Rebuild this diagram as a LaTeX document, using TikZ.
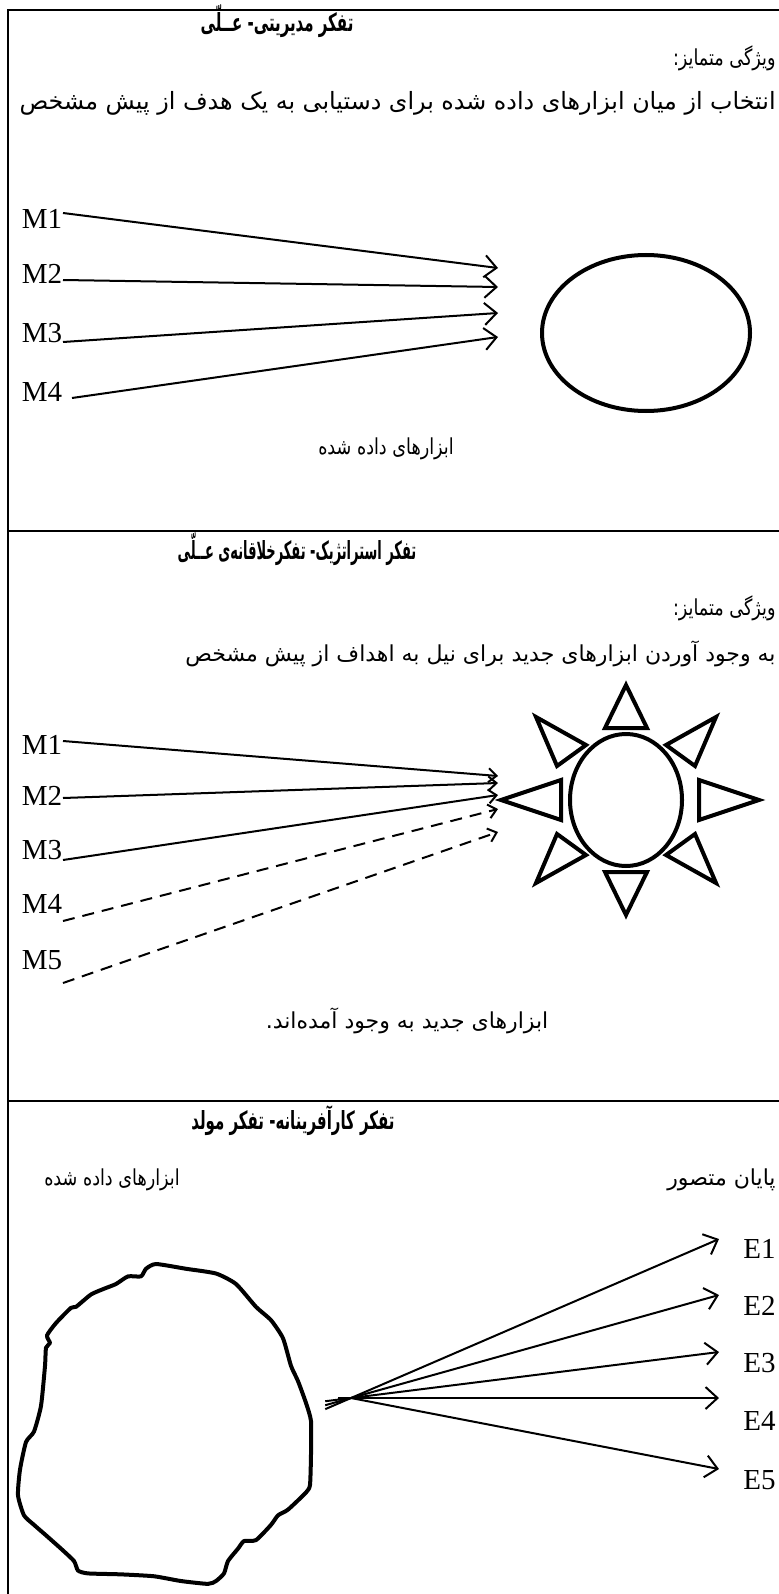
\documentclass[tikz,border=0pt]{standalone}
\usepackage{fontspec}
\usetikzlibrary{arrows.meta,calc,shapes.geometric}
\TeXXeTstate=1
\newfontfamily\fa[Script=Arabic]{DejaVu Sans}
\newfontfamily\facond[Script=Arabic,FakeStretch=0.8]{DejaVu Sans}
\newfontfamily\fatitle[Script=Arabic,FakeStretch=0.6]{DejaVu Sans}
\newfontfamily\fatitlenarrow[Script=Arabic,FakeStretch=0.52]{DejaVu Sans}
\newfontfamily\tnr{Liberation Serif}
\tikzset{
  frame/.style={line width=1pt},
  body/.style={inner sep=0pt, font=\fa\fontsize{11}{13}\selectfont},
  wbody/.style={inner sep=0pt, font=\fa\fontsize{11.9}{14}\selectfont},
  cbody/.style={inner sep=0pt, font=\facond\fontsize{11}{13}\selectfont},
  ttl/.style={inner sep=0pt, font=\fatitle\bfseries\fontsize{12.5}{14}\selectfont},
  nttl/.style={inner sep=0pt, font=\fatitlenarrow\bfseries\fontsize{12.5}{14}\selectfont},
  mlab/.style={inner sep=0pt, font=\tnr\fontsize{14.5}{17}\selectfont},
  arr/.style={line width=1pt, -{Straight Barb[length=6pt,width=11pt]}},
  sarr/.style={line width=1pt, -{Straight Barb[length=4pt,width=7pt]}},
  darr/.style={sarr, dash pattern=on 6pt off 4pt},
  bold shape/.style={line width=2pt},
}
\begin{document}
\begin{tikzpicture}[x=0.5pt,y=-0.5pt]
\useasboundingbox (0,0) rectangle (779,1594);
\clip (0,0) rectangle (779,1594);
% frame
\draw[frame] (8,1600) -- (8,10) -- (790,10);
\draw[frame] (8,531) -- (790,531);
\draw[frame] (8,1101) -- (790,1101);

% ---------- section 1 ----------
\node[ttl] (t1) at (277,21) {\beginR تفکر مدیریتی- عــلّی\endR};
\node[cbody, anchor=east] (f1) at (776,58) {\beginR ویژگی متمایز:\endR};
\node[wbody, anchor=east] (d1) at (776,103) {\beginR انتخاب از میان ابزارهای داده شده برای دستیابی به یک هدف از پیش مشخص\endR};
\node[mlab] (a1) at (42,219) {M1};
\node[mlab] (a2) at (42,274) {M2};
\node[mlab] (a3) at (42,333) {M3};
\node[mlab] (a4) at (42,392) {M4};
\coordinate (a1s) at (63,213);
\coordinate (a2s) at (63,280);
\coordinate (a3s) at (63,342);
\coordinate (a4s) at (72,398);
\coordinate (a1t) at (498,268);
\coordinate (a2t) at (498,287);
\coordinate (a3t) at (498,313);
\coordinate (a4t) at (498,337);
\draw[arr] (a1s) -- (a1t);
\draw[arr] (a2s) -- (a2t);
\draw[arr] (a3s) -- (a3t);
\draw[arr] (a4s) -- (a4t);
\node[bold shape, draw, ellipse, minimum width=104pt, minimum height=78pt, inner sep=0pt] (goal) at (646,333) {};
\node[cbody] (l1) at (386,449) {\beginR ابزارهای داده شده\endR};

% ---------- section 2 ----------
\node[nttl] (t2) at (297,549) {\beginR تفکر استراتژیک- تفکرخلاقانه‌ی عــلّی\endR};
\node[cbody, anchor=east] (f2) at (776,608) {\beginR ویژگی متمایز:\endR};
\node[body, anchor=east] (d2) at (776,654) {\beginR به وجود آوردن ابزارهای جدید برای نیل به اهداف از پیش مشخص\endR};
\node[mlab] (b1) at (42,745) {M1};
\node[mlab] (b2) at (42,796) {M2};
\node[mlab] (b3) at (42,850) {M3};
\node[mlab] (b4) at (42,904) {M4};
\node[mlab] (b5) at (42,960) {M5};
\coordinate (b1s) at (63,741);
\coordinate (b2s) at (63,798);
\coordinate (b3s) at (63,860);
\coordinate (b4s) at (63,921);
\coordinate (b5s) at (63,983);
\coordinate (b1t) at (498,776);
\coordinate (b2t) at (498,783);
\coordinate (b3t) at (498,795);
\coordinate (b4t) at (498,809);
\coordinate (b5t) at (498,832);
\draw[sarr] (b1s) -- (b1t);
\draw[sarr] (b2s) -- (b2t);
\draw[sarr] (b3s) -- (b3t);
\draw[darr] (b4s) -- (b4t);
\draw[darr] (b5s) -- (b5t);
% sun
\node[bold shape, draw, ellipse, minimum width=56pt, minimum height=66pt, inner sep=0pt] (sun) at (626,800) {};
\draw[bold shape] (626,685) -- (605,728) -- (647,728) -- cycle;
\draw[bold shape] (626,915) -- (605,872) -- (647,872) -- cycle;
\draw[bold shape] (501,800) -- (561,780) -- (561,820) -- cycle;
\draw[bold shape] (759,800) -- (699,780) -- (699,820) -- cycle;
\draw[bold shape] (536,717) -- (586,745) -- (557,766) -- cycle;
\draw[bold shape] (716,717) -- (666,745) -- (695,766) -- cycle;
\draw[bold shape] (536,883) -- (586,855) -- (557,834) -- cycle;
\draw[bold shape] (716,883) -- (666,855) -- (695,834) -- cycle;
\node[body] (l2) at (407,1021) {\beginR ابزارهای جدید به وجود آمده‌اند.\endR};

% ---------- section 3 ----------
\node[ttl] (t3) at (293,1121) {\beginR تفکر کارآفرینانه- تفکر مولد\endR};
\node[body, anchor=east] (l3r) at (776,1180) {\beginR پایان متصور\endR};
\node[cbody] (l3l) at (112,1180) {\beginR ابزارهای داده شده\endR};
\begin{scope}[shift={(0,1264)}, yscale=0.952, shift={(0,-1237)}]
\draw[bold shape, line join=round] plot[smooth cycle, tension=0.35] coordinates {
(146,1242) (156,1237) (186,1242) (216,1247) (236,1258) (256,1282) (271,1296)
(283,1315) (291,1344) (298,1360) (306,1383) (311,1402) (311,1437) (310,1469)
(306,1477) (288,1495) (278,1501) (271,1511) (256,1527) (244,1528) (238,1536)
(228,1549) (224,1562) (216,1570) (208,1573) (181,1570) (154,1565) (121,1563)
(88,1562) (78,1559) (74,1549) (61,1536) (46,1522) (34,1511) (24,1501)
(18,1480) (20,1453) (26,1424) (34,1413) (41,1386) (45,1344) (46,1325)
(50,1320) (47,1312) (56,1299) (71,1283) (76,1282) (91,1269) (104,1263)
(116,1258) (128,1250) (141,1250)};
\end{scope}
\coordinate (c3) at (351,1398);
\node[mlab, anchor=west] (e1) at (743,1249) {E1};
\node[mlab, anchor=west] (e2) at (743,1306) {E2};
\node[mlab, anchor=west] (e3) at (743,1363) {E3};
\node[mlab, anchor=west] (e4) at (743,1421) {E4};
\node[mlab, anchor=west] (e5) at (743,1480) {E5};
\coordinate (e1t) at (719,1239);
\coordinate (e2t) at (719,1295);
\coordinate (e3t) at (719,1352);
\coordinate (e4t) at (719,1398);
\coordinate (e5t) at (719,1469);
\draw[arr] ($(c3)!-0.07!(e1t)$) -- (e1t);
\draw[arr] ($(c3)!-0.07!(e2t)$) -- (e2t);
\draw[arr] ($(c3)!-0.07!(e3t)$) -- (e3t);
\draw[arr] ($(c3)!-0.035!(e4t)$) -- (e4t);
\draw[arr] (c3) -- (e5t);
\end{tikzpicture}
\end{document}
